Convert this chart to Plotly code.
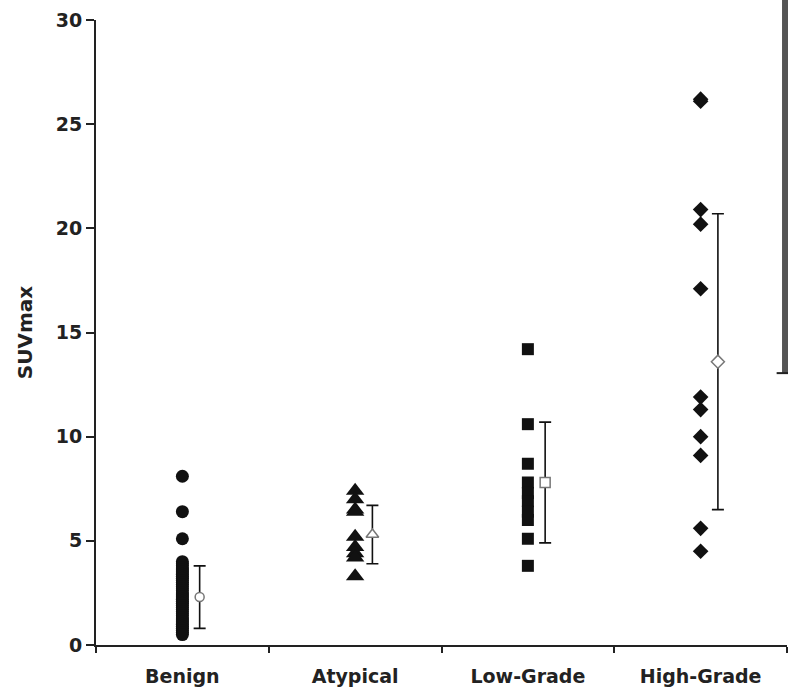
import plotly.graph_objects as go

categories = ["Benign", "Atypical", "Low-Grade", "High-Grade"]

benign = [8.1, 6.4, 5.1, 4.0, 3.9, 3.8, 3.7, 3.6, 3.5, 3.4, 3.3, 3.2, 3.1, 3.0, 2.9, 2.8,
          2.7, 2.6, 2.5, 2.4, 2.3, 2.2, 2.1, 2.0, 1.9, 1.8, 1.7, 1.6, 1.5, 1.4, 1.3,
          1.2, 1.1, 1.0, 0.9, 0.8, 0.7, 0.6, 0.5]
atypical = [7.4, 7.0, 6.5, 6.4, 5.2, 4.7, 4.4, 4.2, 3.3]
low_grade = [14.2, 10.6, 8.7, 7.8, 7.3, 6.9, 6.4, 6.0, 5.1, 3.8]
high_grade = [26.1, 26.2, 20.9, 20.2, 17.1, 11.9, 11.3, 10.0, 9.1, 5.6, 4.5]

means = [2.3, 5.3, 7.8, 13.6]
sds = [1.5, 1.4, 2.9, 7.1]

y_ticks = [0, 5, 10, 15, 20, 25, 30]

groups = [benign, atypical, low_grade, high_grade]
symbols = ["circle", "triangle-up", "square", "diamond"]
sizes = [13, 16, 12, 12]
mean_symbols = ["circle", "triangle-up", "square", "diamond"]
mean_sizes = [9, 11, 10, 10]

fig = go.Figure()

for i, (vals, sym, sz) in enumerate(zip(groups, symbols, sizes)):
    fig.add_trace(go.Scatter(
        x=[i] * len(vals), y=vals, mode="markers",
        marker=dict(symbol=sym, size=sz, color="#111111", line=dict(width=0)),
        showlegend=False, hoverinfo="y"))

for i, (m, s, sym, sz) in enumerate(zip(means, sds, mean_symbols, mean_sizes)):
    fig.add_trace(go.Scatter(
        x=[i + 0.1], y=[m], mode="markers",
        marker=dict(symbol=sym, size=sz, color="white", line=dict(width=1.5, color="#777777")),
        error_y=dict(type="constant", value=s, color="#111111", thickness=1.6, width=6),
        showlegend=False, hoverinfo="y"))

font_family = "DejaVu Sans"

fig.update_layout(
    width=788, height=694,
    margin=dict(l=96, r=1, t=20, b=49),
    paper_bgcolor="white", plot_bgcolor="white",
    font=dict(family=font_family, size=19, color="#222222", weight="bold"),
    xaxis=dict(
        range=[-0.5, 3.5], showgrid=False, zeroline=False,
        showline=True, linecolor="#222222", linewidth=2,
        tickvals=[0, 1, 2, 3], ticktext=categories, ticks="",
        ticklabelstandoff=13,
        tickfont=dict(family=font_family, size=19, color="#222222", weight="bold"),
        minor=dict(tick0=0.5, dtick=1, ticks="outside", ticklen=6, tickwidth=2, tickcolor="#222222"),
    ),
    yaxis=dict(
        range=[0, 30], showgrid=False, zeroline=False,
        showline=True, linecolor="#222222", linewidth=2,
        tickvals=y_ticks, ticks="outside", ticklen=8, tickwidth=2, tickcolor="#222222",
        tickfont=dict(family=font_family, size=19, color="#222222", weight="bold"),
        title=dict(text="SUVmax", font=dict(family=font_family, size=20, color="#222222", weight="bold"),
                   standoff=18),
    ),
    shapes=[
        dict(type="rect", xref="paper", yref="paper", x0=0.9928, x1=1.0015, y0=0.435, y1=1.04,
             fillcolor="#555555", line=dict(width=0), layer="above"),
        dict(type="line", xref="paper", yref="paper", x0=0.985, x1=1.0015, y0=0.435, y1=0.435,
             line=dict(color="#222222", width=2), layer="above"),
    ],
)

fig.write_html(
    "out.html",
    config={"displayModeBar": False},
    post_script="document.body.style.margin='0';document.body.style.overflow='hidden';",
)
